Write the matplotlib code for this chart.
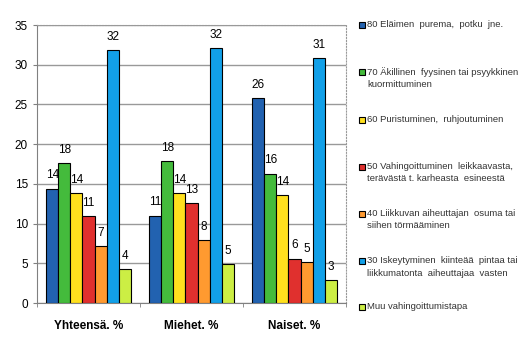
import numpy as np
import matplotlib.pyplot as plt

groups = ['Yhteensä. %', 'Miehet. %', 'Naiset. %']
series = [
    '80 Eläimen  purema,  potku  jne.',
    '70 Äkillinen  fyysinen tai psyykkinen\nkuormittuminen',
    '60 Puristuminen,  ruhjoutuminen',
    '50 Vahingoittuminen  leikkaavasta,\nterävästä t. karheasta  esineestä',
    '40 Liikkuvan aiheuttajan  osuma tai\nsiihen törmääminen',
    '30 Iskeytyminen  kiinteää  pintaa tai\nliikkumatonta  aiheuttajaa  vasten',
    'Muu vahingoittumistapa',
]
values = [
    [14.4, 11.0, 25.8],
    [17.6, 17.9, 16.3],
    [13.8, 13.8, 13.6],
    [10.9, 12.6, 5.6],
    [7.2, 7.9, 5.1],
    [31.8, 32.1, 30.8],
    [4.3, 4.9, 2.9],
]
colors = ['#2262b0', '#44bb3c', '#ffe01e', '#e0302e', '#ff9a30', '#12a0e8', '#ccee44']

plt.rcParams['font.family'] = ['Liberation Sans', 'DejaVu Sans']
fig = plt.figure(figsize=(5.32, 3.44), dpi=100)
ax = fig.add_axes([37 / 532, 41 / 344, 309 / 532, 278 / 344])

x = np.arange(len(groups))
w = 0.117
for i, (name, vals, c) in enumerate(zip(series, values, colors)):
    pos = x + (i - 3) * w
    ax.bar(pos, vals, w, color=c, edgecolor='black', linewidth=0.8, label=name, zorder=3)
    for px, v in zip(pos, vals):
        ax.text(px, v + 0.9, '%.0f' % v, ha='center', va='bottom', fontsize=8.5, zorder=4)

ax.set_xlim(-0.5, 2.5)
ax.set_ylim(0, 35)
ax.set_yticks(range(0, 36, 5))
ax.set_xticks([-0.5, 0.5, 1.5, 2.5], minor=True)
ax.set_xticks(x)
ax.set_xticklabels(groups, fontsize=8.5, fontweight='bold')
ax.tick_params(axis='x', which='major', length=0, pad=12)
ax.tick_params(axis='x', which='minor', length=3, direction='out', color='#808080')
ax.tick_params(axis='y', labelsize=8.5, length=3, color='#808080')
ax.yaxis.grid(True, color='#999999', linewidth=1, zorder=0)
for s in ax.spines.values():
    s.set_color('#999999')
    s.set_linestyle(':')
for s in ['left', 'bottom']:
    ax.spines[s].set_linestyle('-')
    ax.spines[s].set_color('#808080')

# legend laid out by hand on the right
ys = [25, 72, 120, 167, 214, 261, 307]
for name, c, y in zip(series, colors, ys):
    fy = 1 - y / 344
    fig.patches.append(plt.Rectangle((359 / 532, fy - 3 / 344), 6 / 532, 6 / 344,
                                     transform=fig.transFigure, facecolor=c,
                                     edgecolor='black', linewidth=0.8))
    fig.text(367 / 532, fy + 5 / 344, name, fontsize=6.8, va='top', ha='left',
             linespacing=1.5, color='#333333')

fig.savefig('out.png', dpi=100)
